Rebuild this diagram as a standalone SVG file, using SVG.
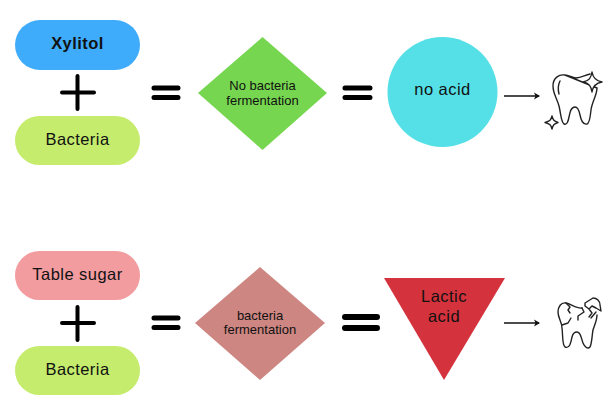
<svg xmlns="http://www.w3.org/2000/svg" width="614" height="409" viewBox="0 0 614 409">
<style>
text{font-family:"Liberation Sans",Arial,sans-serif;text-anchor:middle;fill:#111}
.l{font-size:16.5px;letter-spacing:.45px}
.s{font-size:13px}
.sym{stroke:#000;stroke-linecap:round;fill:none}
.ic{stroke:#222;stroke-width:1.4;fill:none;stroke-linejoin:round;stroke-linecap:round}
.sp{fill:#fff}
.ar{stroke:#111;stroke-width:1.6;fill:none}
</style>
<defs>
<marker id="a" markerWidth="7" markerHeight="8" refX="5" refY="4" orient="auto" markerUnits="userSpaceOnUse"><path d="M0 0.500L6 4L0 7.500L1.500 4Z" fill="#111"/></marker>
</defs>
<rect width="614" height="409" fill="#fff"/>
<g id="xylitol"><rect x="15" y="20" width="125" height="50" rx="25" fill="#3fabfb"/><text class="l" x="77.500" y="49" font-weight="700">Xylitol</text></g>
<g id="bacteria1"><rect x="15" y="116" width="125" height="49" rx="24.500" fill="#c5ec6d"/><text class="l" x="77.500" y="145">Bacteria</text></g>
<g id="plus1"><path class="sym" stroke-width="4" d="M62 92.500H94M77.500 76V109"/></g>
<g id="eq1"><path class="sym" stroke-width="5" d="M154 88H178M154 97.500H178"/></g>
<g id="diamond1"><path d="M262.500 37L327 93L262.500 150L198 93Z" fill="#76d650"/><text class="s" x="262.500" y="89.500">No bacteria</text><text class="s" x="262.500" y="104.500">fermentation</text></g>
<g id="eq2"><path class="sym" stroke-width="5" d="M345 88H370M345 97.500H370"/></g>
<g id="noacid"><circle cx="442.500" cy="92" r="55" fill="#54e0e6"/><text class="l" x="442.500" y="95">no acid</text></g>
<g id="tooth1"><path class="ic" d="M565 75C569 75 572 78 576 78C581 78 585 75 590 74M597 88C597 95 592 102 591 110C590 117 590 123 587 124C583 125 581 120 580 115C579 110 578 107 575 107C571 107 570 112 569 117C568 122 567 125 564 124C561 122 561 114 559 106C557 98 553 94 553 86C553 78 559 74 565 75Z"/><path class="ic" d="M560 81C558 85 558 90 559 94"/><path class="ic sp" d="M592 72C593 78 596 81 602 82C596 83 593 86 592 92C591 86 589 83 583 82C589 81 591 78 592 72Z"/><path class="ic" d="M552 116C553 120 554 121 558 122.500C554 124 553 125 552 129C551 125 550 124 545 122.500C550 121 551 120 552 116Z"/></g>
<g id="sugar"><rect x="15" y="251" width="125" height="49" rx="24.500" fill="#f29ca0"/><text class="l" x="77.500" y="280">Table sugar</text></g>
<g id="bacteria2"><rect x="15" y="346" width="125" height="49" rx="24.500" fill="#c5ec6d"/><text class="l" x="77.500" y="375">Bacteria</text></g>
<g id="plus2"><path class="sym" stroke-width="4" d="M62 323H94M77.500 307V340"/></g>
<g id="eq3"><path class="sym" stroke-width="5" d="M154 318H178M154 327.500H178"/></g>
<g id="diamond2"><path d="M260 267L325 323L260 380L195 323Z" fill="#cd8681"/><text class="s" x="260" y="319.500">bacteria</text><text class="s" x="260" y="334">fermentation</text></g>
<g id="eq4"><path class="sym" stroke-width="6" d="M345 317H377M345 328H377"/></g>
<g id="lactic"><path d="M384 278H505L444 380Z" fill="#d4323c"/><text class="l" x="444" y="302">Lactic</text><text class="l" x="444" y="322">acid</text></g>
<g id="tooth2"><path class="ic" d="M582 308C577 309 571 304 566 303C561 302 558 307 558 312C558 318 562 322 562 328C563 335 562 345 565 347C570 349 571 342 572 337C573 333 575 332 577 332C581 332 581 338 583 343C585 348 588 349 590 347C592 343 592 335 593 330C595 324 597 320 597 315"/><path class="ic" d="M566 303L570 307L568 310L570 313M582 308L584 312L578 316L578 320M562 325L568 323L571 318M585 303L593 298C597 298 600 301 600 305L601 311L596 308L592 306L589 309L585 306ZM589 309L592 313L589 317M596 312L591 318"/></g>
<g id="connectors"><path class="ar" marker-end="url(#a)" d="M504 96H539"/><path class="ar" marker-end="url(#a)" d="M504 323H539"/></g>
</svg>
